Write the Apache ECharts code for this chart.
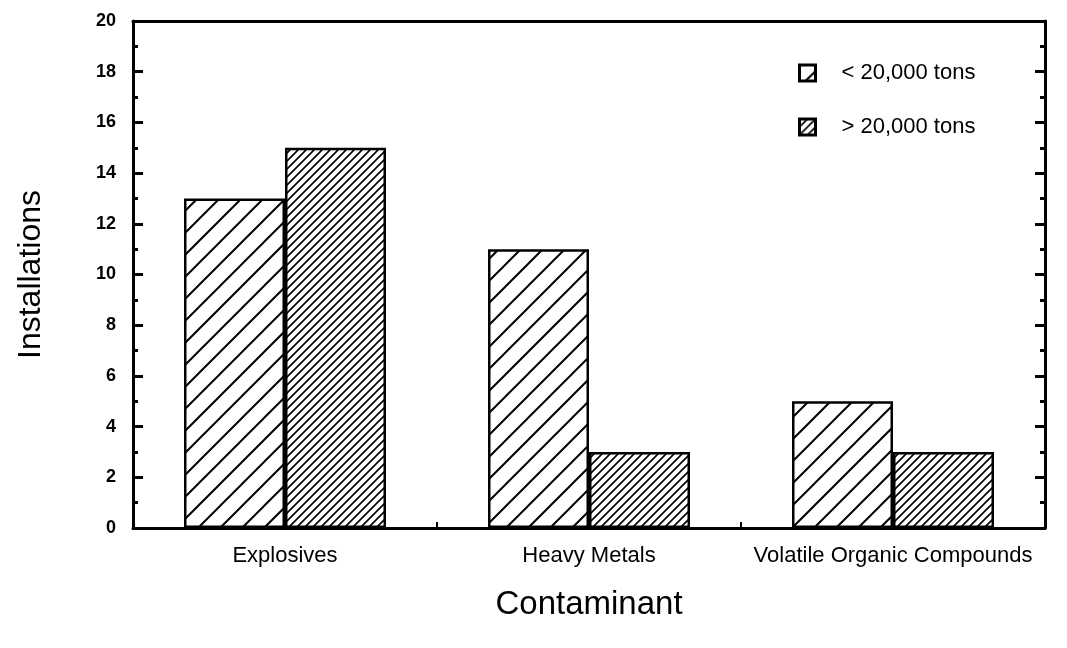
<!DOCTYPE html>
<html>
<head>
<meta charset="utf-8">
<script src="https://cdn.jsdelivr.net/npm/echarts@6/dist/echarts.min.js"></script>
<style>html,body{margin:0;padding:0;background:#fff}#c{width:1067px;height:648px}</style>
</head>
<body>
<div id="c"></div>
<script>
const categories = ['Explosives', 'Heavy Metals', 'Volatile Organic Compounds'];
const seriesNames = ['< 20,000 tons', '> 20,000 tons'];
const lessThan20k = [13, 11, 5];
const moreThan20k = [15, 3, 3];
const yTicks = [0, 20, 2];

function hatch(s, lw) {
  const c = document.createElement('canvas');
  c.width = s; c.height = s;
  const ctx = c.getContext('2d');
  ctx.fillStyle = '#fff';
  ctx.fillRect(0, 0, s, s);
  ctx.strokeStyle = '#000';
  ctx.lineWidth = lw;
  ctx.beginPath();
  ctx.moveTo(-1, s + 1); ctx.lineTo(s + 1, -1);
  ctx.moveTo(-2, 2); ctx.lineTo(2, -2);
  ctx.moveTo(s - 2, s + 2); ctx.lineTo(s + 2, s - 2);
  ctx.stroke();
  return { image: c, repeat: 'repeat' };
}

const font = 'Liberation Sans, Arial, Helvetica, sans-serif';
const chart = echarts.init(document.getElementById('c'), null, { renderer: 'canvas' });
const yBase = {
  type: 'value', min: yTicks[0], max: yTicks[1], interval: yTicks[2],
  axisLine: { show: true, onZero: false, lineStyle: { color: '#000', width: 3 } },
  axisTick: { show: true, inside: true, length: 10, lineStyle: { color: '#000', width: 3 } },
  minorTick: { show: true, splitNumber: 2, length: 5, lineStyle: { color: '#000', width: 3 } },
  splitLine: { show: false }
};
chart.setOption({
  animation: false,
  backgroundColor: '#fff',
  grid: { left: 133, right: 22, top: 21, bottom: 120 },
  legend: {
    orient: 'vertical', left: 793, top: 57, itemWidth: 16, itemHeight: 16, itemGap: 32,
    icon: 'rect',
    itemStyle: { borderColor: '#000', borderWidth: 3 },
    textStyle: { fontFamily: font, fontSize: 22, color: '#000', padding: [0, 0, 0, 21] },
    data: seriesNames
  },
  xAxis: [{
    type: 'category', data: categories, boundaryGap: true,
    axisLine: { onZero: false, lineStyle: { color: '#000', width: 3 } },
    axisTick: { show: true, inside: true, interval: 0, length: 6, lineStyle: { color: '#000', width: 2 } },
    axisLabel: { interval: 0, hideOverlap: false, fontFamily: font, fontSize: 22, color: '#000', margin: 17 },
    name: 'Contaminant', nameLocation: 'middle', nameGap: 60,
    nameTextStyle: { fontFamily: font, fontSize: 33, color: '#000' }
  }, {
    type: 'category', data: categories, position: 'top',
    axisLine: { show: true, onZero: false, lineStyle: { color: '#000', width: 3 } },
    axisTick: { show: false }, axisLabel: { show: false }
  }],
  yAxis: [Object.assign({}, yBase, {
    position: 'left',
    axisLabel: { fontFamily: font, fontSize: 18, fontWeight: 'bold', color: '#000', margin: 17 },
    name: 'Installations', nameLocation: 'middle', nameGap: 86,
    nameTextStyle: { fontFamily: font, fontSize: 32, color: '#000' }
  }), Object.assign({}, yBase, {
    position: 'right', axisLabel: { show: false }
  })],
  series: [{
    name: seriesNames[0], type: 'bar', data: lessThan20k, barWidth: 101, barGap: '0%',
    itemStyle: { color: hatch(22, 2), borderColor: '#000', borderWidth: 2.5 }
  }, {
    name: seriesNames[1], type: 'bar', data: moreThan20k, barWidth: 101, barGap: '0%',
    itemStyle: { color: hatch(8, 1.6), borderColor: '#000', borderWidth: 2.5 }
  }]
});
</script>
</body>
</html>
